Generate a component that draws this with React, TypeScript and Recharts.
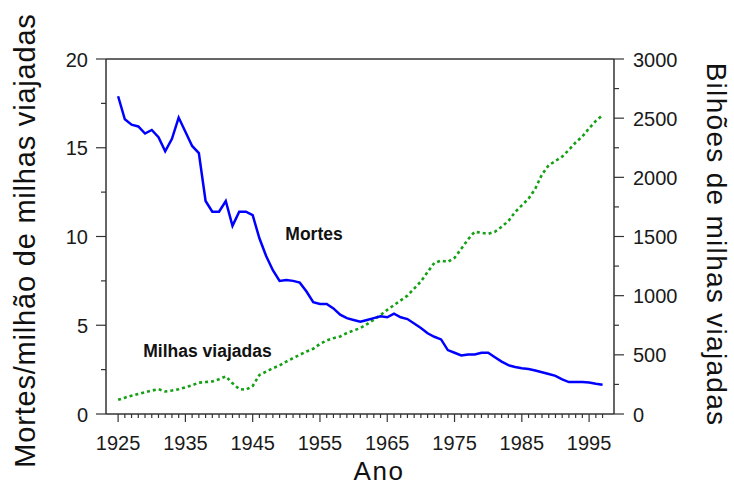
import React from 'react';
import { LineChart, Line, XAxis, YAxis, ReferenceLine } from 'recharts';

const anos = [
  1925, 1926, 1927, 1928, 1929, 1930, 1931, 1932, 1933, 1934,
  1935, 1936, 1937, 1938, 1939, 1940, 1941, 1942, 1943, 1944,
  1945, 1946, 1947, 1948, 1949, 1950, 1951, 1952, 1953, 1954,
  1955, 1956, 1957, 1958, 1959, 1960, 1961, 1962, 1963, 1964,
  1965, 1966, 1967, 1968, 1969, 1970, 1971, 1972, 1973, 1974,
  1975, 1976, 1977, 1978, 1979, 1980, 1981, 1982, 1983, 1984,
  1985, 1986, 1987, 1988, 1989, 1990, 1991, 1992, 1993, 1994,
  1995, 1996, 1997,
];

// mortes por milhão de milhas viajadas (eixo esquerdo)
const mortes = [
  17.9, 16.6, 16.3, 16.2, 15.8, 16.0, 15.6, 14.8, 15.5, 16.7,
  15.9, 15.1, 14.7, 12.0, 11.4, 11.4, 12.0, 10.6, 11.4, 11.4,
  11.2, 9.9, 8.9, 8.1, 7.5, 7.55, 7.5, 7.4, 6.9, 6.3,
  6.2, 6.2, 5.95, 5.6, 5.4, 5.3, 5.2, 5.3, 5.4, 5.5,
  5.45, 5.65, 5.45, 5.35, 5.1, 4.85, 4.55, 4.35, 4.2, 3.6,
  3.45, 3.3, 3.35, 3.35, 3.45, 3.45, 3.2, 2.95, 2.75, 2.65,
  2.58, 2.54, 2.45, 2.35, 2.25, 2.15, 1.95, 1.8, 1.8, 1.8,
  1.77, 1.7, 1.65,
];

// bilhões de milhas viajadas (eixo direito)
const milhas = [
  120, 138, 155, 170, 184, 198, 209, 190, 198, 210,
  226, 243, 265, 270, 275, 294, 318, 260, 210, 205,
  237, 330, 358, 387, 410, 443, 472, 500, 528, 551,
  593, 621, 641, 655, 684, 706, 726, 760, 797, 836,
  880, 920, 960, 1000, 1060, 1120, 1200, 1277, 1297, 1285,
  1320, 1396, 1475, 1540, 1531, 1523, 1540, 1582, 1630, 1706,
  1763, 1820, 1904, 2025, 2102, 2138, 2175, 2232, 2294, 2345,
  2415, 2477, 2525,
];

const rotulosX = [1925, 1935, 1945, 1955, 1965, 1975, 1985, 1995];
const rotulosEsq = [0, 5, 10, 15, 20];
const rotulosDir = [0, 500, 1000, 1500, 2000, 2500, 3000];

const dados = anos.map((ano, i) => ({ ano, mortes: mortes[i], milhas: milhas[i] }));

const ticksX: number[] = [];
for (let a = 1925; a <= 1997; a++) ticksX.push(a);
const ticksEsq = [0, 2.5, 5, 7.5, 10, 12.5, 15, 17.5, 20];
const ticksDir = [0, 250, 500, 750, 1000, 1250, 1500, 1750, 2000, 2250, 2500, 2750, 3000];

const fonte = '"Liberation Sans", Arial, Helvetica, sans-serif';
const corEixo = '#333';

const TickX = (props: any) => {
  const { x, y, payload } = props;
  const major = rotulosX.includes(payload.value);
  return (
    <g>
      <line x1={x} y1={y} x2={x} y2={y + (major ? 8 : 4)} stroke={corEixo} strokeWidth={1.2} />
      {major && (
        <text x={x} y={y + 36} textAnchor="middle" fontSize={20} fontFamily={fonte} fill="#1a1a1a">
          {payload.value}
        </text>
      )}
    </g>
  );
};

const TickEsq = (props: any) => {
  const { x, y, payload } = props;
  const major = rotulosEsq.includes(payload.value);
  return (
    <g>
      <line x1={x} y1={y} x2={x - (major ? 10 : 5)} y2={y} stroke={corEixo} strokeWidth={1.2} />
      {major && (
        <text x={x - 18} y={y + 7.5} textAnchor="end" fontSize={20} fontFamily={fonte} fill="#1a1a1a">
          {payload.value}
        </text>
      )}
    </g>
  );
};

const TickDir = (props: any) => {
  const { x, y, payload } = props;
  const major = rotulosDir.includes(payload.value);
  return (
    <g>
      <line x1={x} y1={y} x2={x + (major ? 10 : 5)} y2={y} stroke={corEixo} strokeWidth={1.2} />
      {major && (
        <text x={x + 19} y={y + 7.5} textAnchor="start" fontSize={20} fontFamily={fonte} fill="#1a1a1a">
          {payload.value}
        </text>
      )}
    </g>
  );
};

export default function App() {
  return (
    <div style={{ position: 'absolute', left: 0, top: 0, width: 734, height: 486, background: '#fff' }}>
      <LineChart
        width={734}
        height={486}
        data={dados}
        margin={{ top: 59, right: 60, bottom: 32, left: 46 }}
      >
        <XAxis
          dataKey="ano"
          type="number"
          domain={[1923.2, 1998.7]}
          allowDataOverflow
          ticks={ticksX}
          interval={0}
          tick={<TickX />}
          tickLine={false}
          tickSize={0}
          tickMargin={0}
          height={40}
          axisLine={{ stroke: corEixo, strokeWidth: 1.5 }}
        />
        <YAxis
          yAxisId="esq"
          domain={[0, 20]}
          ticks={ticksEsq}
          interval={0}
          tick={<TickEsq />}
          tickLine={false}
          tickSize={0}
          tickMargin={0}
          width={60}
          axisLine={{ stroke: corEixo, strokeWidth: 1.5 }}
        />
        <YAxis
          yAxisId="dir"
          orientation="right"
          domain={[0, 3000]}
          ticks={ticksDir}
          interval={0}
          tick={<TickDir />}
          tickLine={false}
          tickSize={0}
          tickMargin={0}
          width={60}
          axisLine={{ stroke: corEixo, strokeWidth: 1.5 }}
        />
        <ReferenceLine yAxisId="esq" y={20} stroke={corEixo} strokeWidth={1.5} />
        <Line
          yAxisId="dir"
          dataKey="milhas"
          type="linear"
          stroke="#14a014"
          strokeWidth={2.6}
          strokeDasharray="3 3"
          dot={false}
          isAnimationActive={false}
        />
        <Line
          yAxisId="esq"
          dataKey="mortes"
          type="linear"
          stroke="#0000ff"
          strokeWidth={2.5}
          dot={false}
          isAnimationActive={false}
        />
      </LineChart>
      <svg
        width={734}
        height={486}
        style={{ position: 'absolute', left: 0, top: 0, pointerEvents: 'none' }}
      >
        <text x={314} y={240} textAnchor="middle" fontSize={17.5} fontWeight="bold" fontFamily={fonte} fill="#111">
          Mortes
        </text>
        <text x={207.5} y={357} textAnchor="middle" fontSize={17.5} fontWeight="bold" fontFamily={fonte} fill="#111">
          Milhas viajadas
        </text>
        <text x={379} y={480} textAnchor="middle" fontSize={26} letterSpacing={1.5} fontFamily={fonte} fill="#111">
          Ano
        </text>
        <text
          transform="translate(35,240.5) rotate(-90)"
          textAnchor="middle"
          fontSize={29}
          letterSpacing={0.8}
          fontFamily={fonte}
          fill="#111"
        >
          Mortes/milhão de milhas viajadas
        </text>
        <text
          transform="translate(707,244.5) rotate(90)"
          textAnchor="middle"
          fontSize={28}
          letterSpacing={1.3}
          fontFamily={fonte}
          fill="#111"
        >
          Bilhões de milhas viajadas
        </text>
      </svg>
    </div>
  );
}
